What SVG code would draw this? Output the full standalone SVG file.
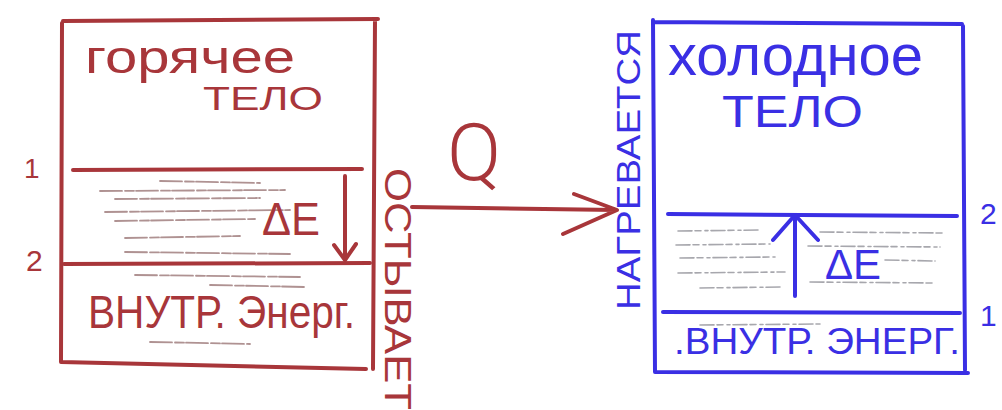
<svg xmlns="http://www.w3.org/2000/svg" width="1002" height="410" viewBox="0 0 1002 410">
<defs>
<style>
.r{fill:none;stroke:#a8363a;stroke-width:4;stroke-linecap:round;stroke-linejoin:round}
.b{fill:none;stroke:#3a2fe4;stroke-width:4;stroke-linecap:round;stroke-linejoin:round}
.rt{fill:#a8363a;font-family:"Liberation Sans","DejaVu Sans",sans-serif}
.bt{fill:#3a2fe4;font-family:"Liberation Sans","DejaVu Sans",sans-serif}
.q{fill:#a8363a;font-family:Roboto,"DejaVu Sans",sans-serif;font-weight:300}
.hr{fill:none;stroke:#7a4a4a;stroke-width:1.8;stroke-opacity:.6;stroke-linecap:round;stroke-dasharray:22 3 9 2}
.hb{fill:none;stroke:#5e5e6a;stroke-width:1.6;stroke-opacity:.55;stroke-linecap:round;stroke-dasharray:14 3 6 4 3 3}
</style>
</defs>
<rect width="1002" height="410" fill="#ffffff"/>

<g id="hot-body">
<path class="r" d="M63 21 L378 19 M62 23 L61 362 L366 369 M375 20 L373 369"/>
<path class="r" d="M73 170 L362 169"/>
<path class="r" d="M64 264 L370 263"/>
<g class="hr">
<path d="M160 181 L260 183"/>
<path d="M100 191 L285 190"/>
<path d="M115 199 L260 198"/>
<path d="M105 212 L290 210"/>
<path d="M115 221 L255 219"/>
<path d="M125 238 L240 236"/>
<path d="M125 252 L290 254"/>
<path d="M135 275 L300 277"/>
<path d="M210 285 L305 287"/>
<path d="M150 342 L250 344"/>
</g>
<text class="rt" x="85" y="73" font-size="46" textLength="210" lengthAdjust="spacingAndGlyphs">горячее</text>
<text class="rt" x="203" y="110" font-size="34" textLength="120" lengthAdjust="spacingAndGlyphs">ТЕЛО</text>
<text class="rt" x="262" y="235" font-size="46" textLength="58" lengthAdjust="spacingAndGlyphs">ΔE</text>
<path class="r" d="M345 176 L345 258 M334 245 L345 260 L356 244" stroke-width="3"/>
<text class="rt" x="88" y="328" font-size="46" textLength="267" lengthAdjust="spacingAndGlyphs">ВНУТР. Энерг.</text>
<text class="rt" x="24" y="178" font-size="28">1</text>
<text class="rt" x="26" y="271" font-size="30">2</text>
<text class="rt" font-size="36" transform="translate(385 168) rotate(90)" textLength="242" lengthAdjust="spacingAndGlyphs">ОСТЫВАЕТ</text>
</g>

<g id="cold-body">
<path class="b" d="M653 22 L962 24 M653 20 L655 372 L968 373 M963 26 L965 370"/>
<path class="b" d="M668 214 L957 216"/>
<path class="b" d="M663 312 L960 313"/>
<g class="hb">
<path d="M678 231 L760 230"/>
<path d="M820 232 L945 233"/>
<path d="M676 245 L770 244"/>
<path d="M808 246 L940 247"/>
<path d="M680 258 L775 257"/>
<path d="M885 260 L935 261"/>
<path d="M678 273 L785 272"/>
<path d="M810 282 L935 283"/>
<path d="M700 288 L780 287"/>
<path d="M700 325 L820 324"/>
</g>
<text class="bt" x="668" y="75" font-size="58" textLength="255" lengthAdjust="spacingAndGlyphs">холодное</text>
<text class="bt" x="722" y="127" font-size="44" textLength="141" lengthAdjust="spacingAndGlyphs">ТЕЛО</text>
<path class="b" d="M795 296 L795 217 M773 240 L795 215 L818 240" stroke-width="3.5"/>
<text class="bt" x="825" y="279" font-size="42" textLength="56" lengthAdjust="spacingAndGlyphs">ΔE</text>
<text class="bt" x="674" y="354" font-size="36" textLength="286" lengthAdjust="spacingAndGlyphs">.ВНУТР. ЭНЕРГ.</text>
<text class="bt" x="980" y="224" font-size="30">2</text>
<text class="bt" x="980" y="326" font-size="30">1</text>
<text class="bt" font-size="34" transform="translate(640 310) rotate(-90)" textLength="280" lengthAdjust="spacingAndGlyphs">НАГРЕВАЕТСЯ</text>
</g>

<g id="connectors">
<path class="r" d="M412 207 L616 210 M574 194 L617 210 L563 234" stroke-width="4.5"/>
<text class="q" x="447" y="180" font-size="80">Q</text>
</g>
</svg>
